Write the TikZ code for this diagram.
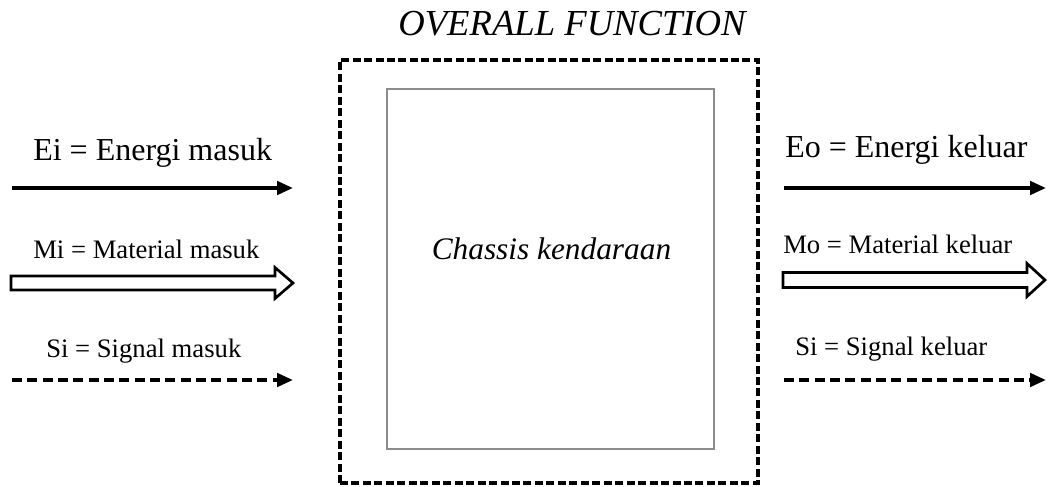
\documentclass[tikz,border=0pt]{standalone}
\usepackage{fontspec}
\setmainfont{Liberation Serif}
\usetikzlibrary{arrows.meta,calc}

\tikzset{
  lbl/.style={anchor=base west, inner sep=0pt},
  biglbl/.style={lbl, font=\fontsize{24}{28}\selectfont},
  smalllbl/.style={lbl, font=\fontsize{20}{24}\selectfont},
  energyflow/.style={line width=2.8pt, -{Triangle[length=12pt,width=10pt]}},
  signalflow/.style={line width=2.8pt, dash pattern=on 7.5pt off 4pt,
    -{Triangle[length=12pt,width=10pt]}},
  materialflow/.style={line width=2pt, line join=miter, fill=white},
  boundary/.style={draw, line width=2.4pt, dash pattern=on 6pt off 2.6pt,
    minimum width=313.5pt, minimum height=317.25pt, inner sep=0pt},
  process/.style={draw=black!45, line width=1.8pt,
    minimum width=245.25pt, minimum height=270pt, inner sep=0pt},
}

\begin{document}
\begin{tikzpicture}[x=0.75pt, y=-0.75pt]
  \useasboundingbox (0,0) rectangle (1048,486);

  % system boundary and the function block inside it
  \node[boundary] (system) at (549,271.5) {};
  \node[process] (chassis) at (550.5,269) {};
  \node[anchor=base, inner sep=0pt, font=\fontsize{23.5}{28}\selectfont\itshape]
    (chassistext) at (551.5,259) {Chassis kendaraan};
  \node[anchor=base, inner sep=0pt, font=\fontsize{27.5}{32}\selectfont\itshape]
    (title) at (572,35) {OVERALL FUNCTION};

  % input labels
  \node[biglbl]   (ei) at (33,160)  {Ei = Energi masuk};
  \node[smalllbl] (mi) at (33,258)  {Mi = Material masuk};
  \node[smalllbl] (si) at (46,357)  {Si = Signal masuk};
  % output labels
  \node[biglbl]   (eo) at (785,157) {Eo = Energi keluar};
  \node[smalllbl] (mo) at (783,253) {Mo = Material keluar};
  \node[smalllbl] (so) at (795,355) {Si = Signal keluar};

  % flow end points
  \coordinate (eiS) at (12,188);   \coordinate (eiE) at (293,188);
  \coordinate (miS) at (11,283);   \coordinate (miE) at (293,283);
  \coordinate (siS) at (12,380);   \coordinate (siE) at (293,380);
  \coordinate (eoS) at (784,188);  \coordinate (eoE) at (1046,188);
  \coordinate (moS) at (783,280);  \coordinate (moE) at (1045,280);
  \coordinate (soS) at (784,380);  \coordinate (soE) at (1046,380);

  % energy flows
  \draw[energyflow] (eiS) -- (eiE);
  \draw[energyflow] (eoS) -- (eoE);

  % material flows (hollow block arrows)
  \draw[materialflow]
    ($(miS)+(0,-7)$) -- ($(miE)+(-18,-7)$) -- ($(miE)+(-18,-15.5)$) -- (miE)
    -- ($(miE)+(-18,15.5)$) -- ($(miE)+(-18,7)$) -- ($(miS)+(0,7)$) -- cycle;
  \draw[materialflow]
    ($(moS)+(0,-7.5)$) -- ($(moE)+(-18,-7.5)$) -- ($(moE)+(-18,-16.5)$) -- (moE)
    -- ($(moE)+(-18,16.5)$) -- ($(moE)+(-18,7.5)$) -- ($(moS)+(0,7.5)$) -- cycle;

  % signal flows
  \draw[signalflow] (siS) -- (siE);
  \draw[signalflow] (soS) -- (soE);
\end{tikzpicture}
\end{document}
